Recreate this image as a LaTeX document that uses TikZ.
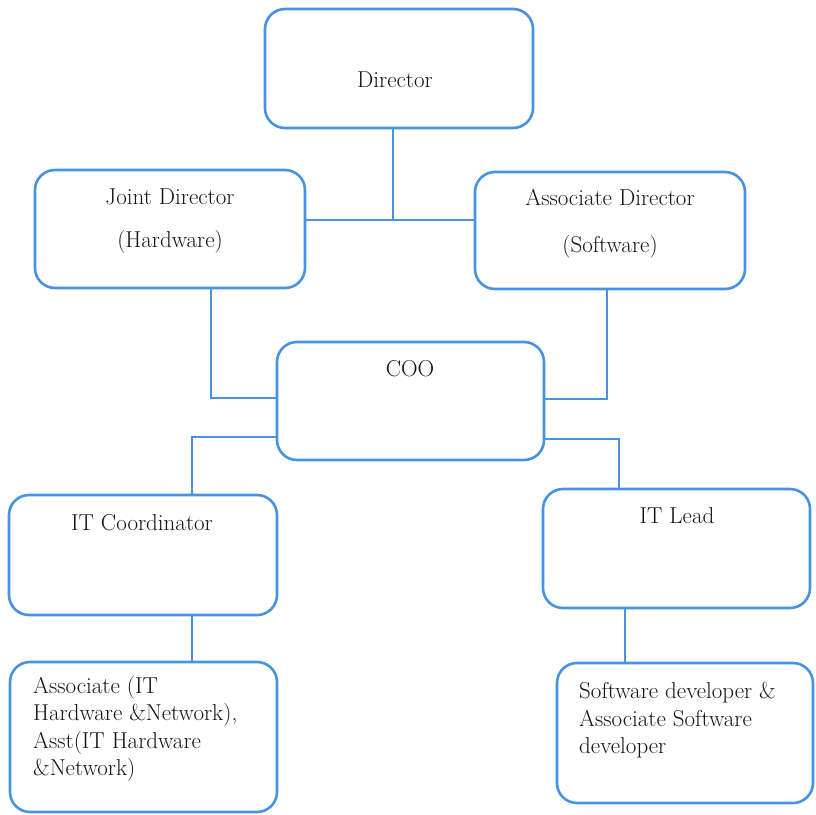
\documentclass[tikz,border=0pt]{standalone}
\definecolor{orgblue}{RGB}{72,146,226}
\definecolor{orgtext}{RGB}{22,18,22}
\begin{document}
\begin{tikzpicture}[x=1pt,y=-1pt,
  box/.style={draw=orgblue, line width=2.6pt, rounded corners=20pt, rectangle, inner sep=0pt, outer sep=0pt},
  label/.style={anchor=base, inner sep=0pt, text=orgtext, font=\fontsize{23}{28}\selectfont},
  para/.style={anchor=north west, inner sep=0pt, text=orgtext, align=left, font=\fontsize{23}{27.5}\selectfont},
  link/.style={draw=orgblue, line width=2.4pt}]
\useasboundingbox (0,0) rectangle (816,814);

% boxes
\node[box, minimum width=268pt, minimum height=119pt] (dir) at (399,68.5) {};
\node[box, minimum width=270pt, minimum height=118pt] (jd)  at (170,229) {};
\node[box, minimum width=270pt, minimum height=117pt] (ad)  at (610,230.5) {};
\node[box, minimum width=267pt, minimum height=118pt] (coo) at (410.5,401) {};
\node[box, minimum width=268pt, minimum height=120pt] (itc) at (143,555) {};
\node[box, minimum width=267pt, minimum height=119pt] (itl) at (676.5,548.5) {};
\node[box, minimum width=267pt, minimum height=150pt] (asc) at (143.5,737) {};
\node[box, minimum width=256pt, minimum height=140pt] (swd) at (685,733) {};

% texts
\node[label] (tdir) at (395,87) {Director};
\node[label] (tjd1) at (170,204) {Joint Director};
\node[label] (tjd2) at (170,247) {(Hardware)};
\node[label] (tad1) at (610,205) {Associate Director};
\node[label] (tad2) at (610,252) {(Software)};
\node[label] (tcoo) at (410,376) {COO};
\node[label] (titc) at (142,530) {IT Coordinator};
\node[label] (titl) at (677,523) {IT Lead};
\node[para] (tasc) at (33,676) {Associate (IT\\Hardware \&Network),\\Asst(IT Hardware\\\&Network)};
\node[para] (tswd) at (579,682) {Software developer \&\\Associate Software\\developer};

% junction points of the connectors
\coordinate (jtop) at (393,220);
\coordinate (jleft) at (211,398);
\coordinate (jright) at (607,399);
\coordinate (jlow1) at (192,437);
\coordinate (jlow2) at (619,439);
\coordinate (jitc) at (192,0);
\coordinate (jitl) at (625,0);

% connectors
\draw[link] (dir.south -| jtop) -- (jtop);
\draw[link] (jd.east |- jtop) -- (ad.west |- jtop);
\draw[link] (jd.south -| jleft) |- (coo.west |- jleft);
\draw[link] (ad.south -| jright) |- (coo.east |- jright);
\draw[link] (coo.west |- jlow1) -| (itc.north -| jlow1);
\draw[link] (coo.east |- jlow2) -| (itl.north -| jlow2);
\draw[link] (itc.south -| jitc) -- (asc.north -| jitc);
\draw[link] (itl.south -| jitl) -- (swd.north -| jitl);
\end{tikzpicture}
\end{document}
